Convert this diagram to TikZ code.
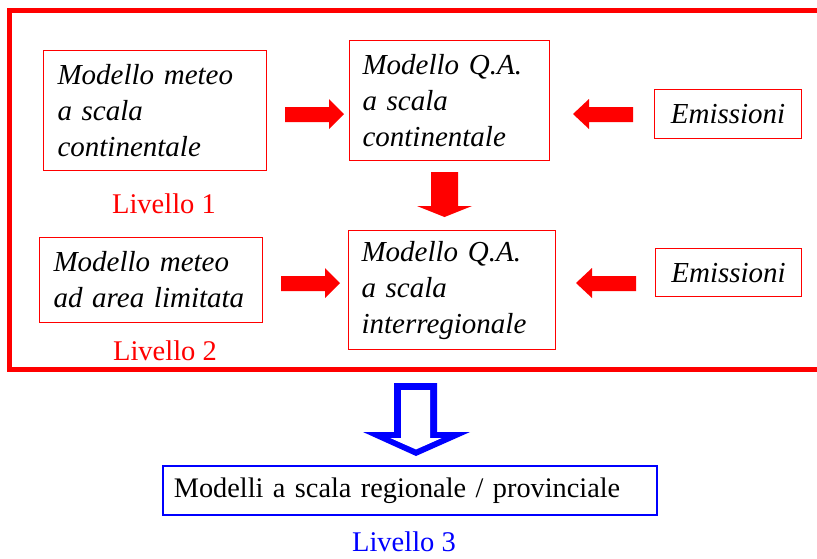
\documentclass[tikz,border=0pt]{standalone}
\usepackage{fontspec}
\setmainfont{Liberation Serif}
\begin{document}
\begin{tikzpicture}[x=1pt,y=-1pt,
  rbox/.style={draw=red,line width=1.1pt,rectangle,inner ysep=0pt,anchor=north west,
     font=\fontsize{29}{36}\selectfont\itshape,align=left},
  lbl/.style={anchor=base,font=\fontsize{28.5}{34}\selectfont},
  blockr/.style={fill=red,draw=none}]
\clip (0,0) rectangle (817,558);
% red frame
\draw[red,line width=5pt] (830,10.5) -- (9.5,10.5) -- (9.5,369) -- (830,369);
% boxes
\node[rbox,minimum width=223,minimum height=120,text width=195,inner xsep=14] (mc) at (43,50) {Modello meteo\\a scala\\continentale};
\node[rbox,minimum width=200,minimum height=120,text width=174,inner xsep=13] (qc) at (349,40) {Modello Q.A.\\a scala\\continentale};
\node[rbox,minimum width=147,minimum height=49,text width=147,inner xsep=0,align=center] (e1) at (654,89) {Emissioni};
\node[rbox,minimum width=223,minimum height=85,text width=195,inner xsep=14] (ml) at (39,237) {Modello meteo\\ad area limitata};
\node[rbox,minimum width=207,minimum height=119,text width=181,inner xsep=13] (qi) at (348,230) {Modello Q.A.\\a scala\\interregionale};
\node[rbox,minimum width=146,minimum height=48,text width=146,inner xsep=0,align=center] (e2) at (655,248) {Emissioni};
\node[draw=blue,line width=1.8pt,rectangle,anchor=north west,minimum width=494,minimum height=49,
  text width=472,inner xsep=11,inner ysep=0,align=left,font=\fontsize{28.3}{34}\selectfont] (mr) at (162,465) {Modelli a scala regionale / provinciale};
% labels
\node[lbl,text=red] (l1) at (164,213) {Livello 1};
\node[lbl,text=red] (l2) at (165,360) {Livello 2};
\node[lbl,text=blue] (l3) at (404,551) {Livello 3};
% red block arrows
\fill[blockr] (285,107) -- (329,107) -- (329,99) -- (344,114) -- (329,129) -- (329,122) -- (285,122) -- cycle;
\fill[blockr] (633,107) -- (589,107) -- (589,99) -- (573,114) -- (589,129) -- (589,122) -- (633,122) -- cycle;
\fill[blockr] (281,276) -- (325,276) -- (325,268) -- (340,283) -- (325,298) -- (325,291) -- (281,291) -- cycle;
\fill[blockr] (636,276) -- (592,276) -- (592,268) -- (576,283) -- (592,298) -- (592,291) -- (636,291) -- cycle;
\fill[blockr] (431,172) -- (458,172) -- (458,206) -- (472,206) -- (444.5,217) -- (417,206) -- (431,206) -- cycle;
% blue hollow arrow
\fill[blue] (394,383) -- (437,383) -- (437,432) -- (470,432) -- (416,456) -- (363,432) -- (394,432) -- cycle;
\fill[white] (401,390) -- (430,390) -- (430,438) -- (441.7,438) -- (416,449.4) -- (390.3,438) -- (401,438) -- cycle;
\end{tikzpicture}
\end{document}
